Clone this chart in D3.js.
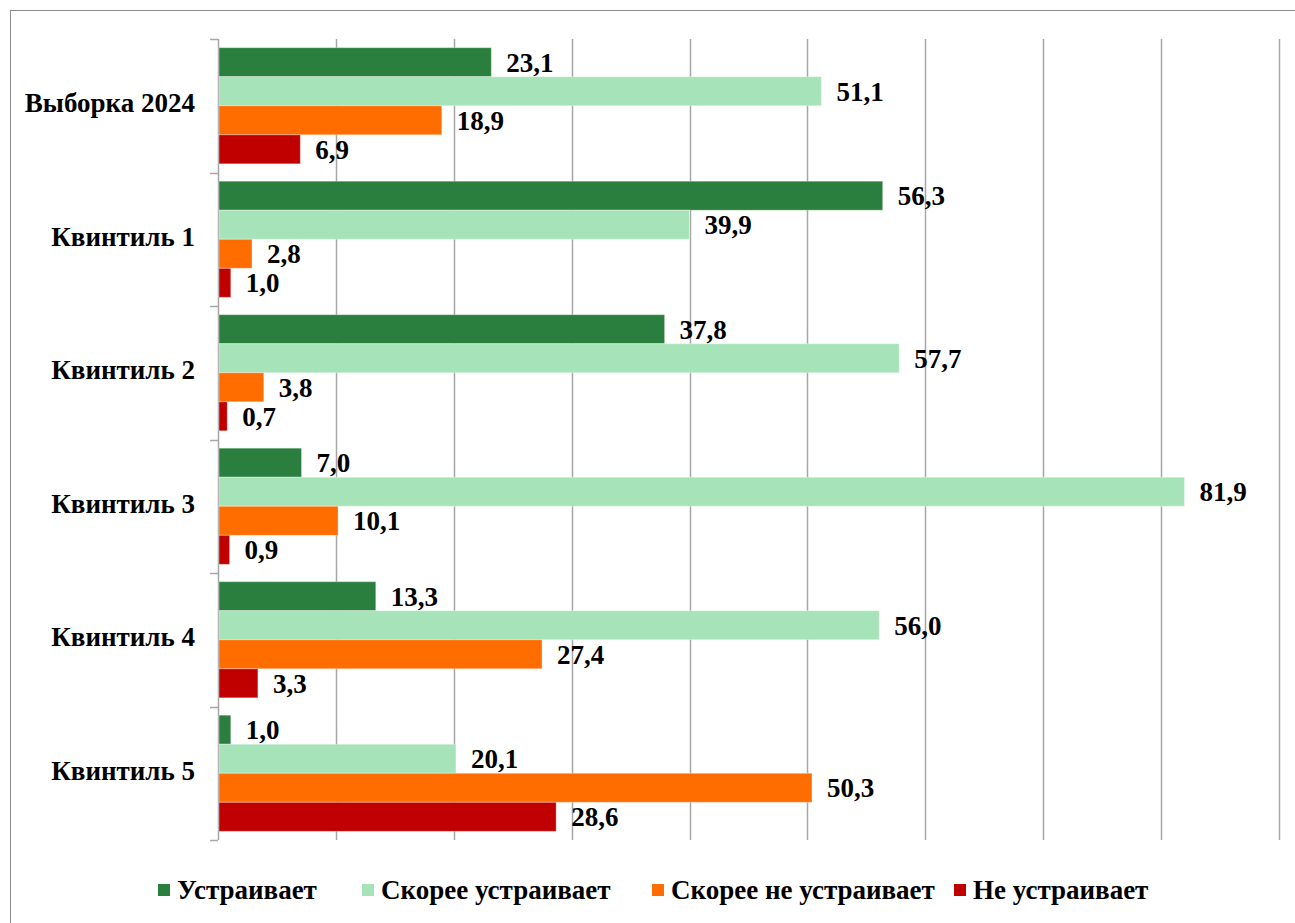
<!DOCTYPE html>
<html>
<head>
<meta charset="utf-8">
<script src="https://cdnjs.cloudflare.com/ajax/libs/d3/7.8.5/d3.min.js"></script>
<title>Удовлетворённость по квинтилям</title>
<style>
  body { margin: 0; background: #fff; }
  svg text { font-family: "Liberation Serif", "Times New Roman", serif; font-weight: bold; fill: #000; }
</style>
</head>
<body>
<svg id="chart" width="1295" height="923"></svg>
<script>
// data
var categories = ['Выборка 2024', 'Квинтиль 1', 'Квинтиль 2', 'Квинтиль 3', 'Квинтиль 4', 'Квинтиль 5'];
var seriesNames = ['Устраивает', 'Скорее устраивает', 'Скорее не устраивает', 'Не устраивает'];
var seriesColors = ['#2a7f3f', '#a6e3b8', '#ff6d00', '#c00000'];
var ustraivaet = [23.1, 56.3, 37.8, 7.0, 13.3, 1.0];
var skoreeUstraivaet = [51.1, 39.9, 57.7, 81.9, 56.0, 20.1];
var skoreeNeUstraivaet = [18.9, 2.8, 3.8, 10.1, 27.4, 50.3];
var neUstraivaet = [6.9, 1.0, 0.7, 0.9, 3.3, 28.6];
var xTicks = [0, 10, 20, 30, 40, 50, 60, 70, 80, 90];

var seriesValues = [ustraivaet, skoreeUstraivaet, skoreeNeUstraivaet, neUstraivaet];

var svg = d3.select('#chart');
var margin = { left: 218, top: 39, right: 16, bottom: 83 };
var width = 1295 - margin.left - margin.right;
var height = 923 - margin.top - margin.bottom;

// outer frame (only top and left edges visible)
svg.append('rect')
	.attr('x', 10.5).attr('y', 10.5)
	.attr('width', 1400).attr('height', 1000)
	.attr('fill', 'none')
	.attr('stroke', '#8c8c8c')
	.attr('stroke-width', 1);

var g = svg.append('g').attr('transform', 'translate(' + margin.left + ',' + margin.top + ')');

var x = d3.scaleLinear().domain([0, 90]).range([0, 1279 - margin.left]);
var y0 = d3.scaleBand().domain(categories).range([0, height]).paddingInner(0).paddingOuter(0);
var y1 = d3.scaleBand().domain(seriesNames)
	.range([y0.bandwidth() * 0.065, y0.bandwidth() * 0.935]).padding(0);

// gridlines
g.selectAll('.grid')
	.data(xTicks.slice(1))
	.enter().append('line')
		.attr('class', 'grid')
		.attr('x1', function( d ) { return Math.round(x(d)) + 0.5; })
		.attr('x2', function( d ) { return Math.round(x(d)) + 0.5; })
		.attr('y1', 0).attr('y2', height)
		.attr('stroke', '#a6a6a6')
		.attr('stroke-width', 1.5);

// left axis with ticks at category boundaries
var bounds = categories.map(function( c ) { return y0(c); }).concat([height]);
g.append('line')
	.attr('x1', 0.5).attr('x2', 0.5)
	.attr('y1', 0).attr('y2', height)
	.attr('stroke', '#a6a6a6').attr('stroke-width', 1.5);
g.selectAll('.ytick')
	.data(bounds)
	.enter().append('line')
		.attr('class', 'ytick')
		.attr('x1', -8).attr('x2', 0)
		.attr('y1', function( d ) { return Math.round(d) + 0.5; })
		.attr('y2', function( d ) { return Math.round(d) + 0.5; })
		.attr('stroke', '#a6a6a6').attr('stroke-width', 1.5);

// category labels
g.selectAll('.cat')
	.data(categories)
	.enter().append('text')
		.attr('class', 'cat')
		.attr('x', -23)
		.attr('y', function( d ) { return y0(d) + y0.bandwidth() / 2 - 3; })
		.attr('dy', '0.35em')
		.attr('text-anchor', 'end')
		.style('font-size', '27px')
		.text(function( d ) { return d; });

// bars
var rows = [];
categories.forEach(function( c, i ) {
	seriesNames.forEach(function( s, j ) {
		rows.push({ cat: c, series: s, value: seriesValues[j][i], color: seriesColors[j] });
	});
});

g.selectAll('.bar')
	.data(rows)
	.enter().append('rect')
		.attr('class', 'bar')
		.attr('x', 1)
		.attr('y', function( d ) { return y0(d.cat) + y1(d.series); })
		.attr('width', function( d ) { return x(d.value); })
		.attr('height', y1.bandwidth())
		.attr('fill', function( d ) { return d.color; })
		.attr('stroke', '#ffffff')
		.attr('stroke-opacity', 0.35)
		.attr('stroke-width', 1);

g.selectAll('.val')
	.data(rows)
	.enter().append('text')
		.attr('class', 'val')
		.attr('x', function( d ) { return x(d.value) + 16; })
		.attr('y', function( d ) { return y0(d.cat) + y1(d.series) + y1.bandwidth() / 2; })
		.attr('dy', '0.35em')
		.style('font-size', '27px')
		.text(function( d ) { return d.value.toFixed(1).replace('.', ','); });

// legend
var legendX = [158, 362, 652, 954];
var legend = svg.selectAll('.legend')
	.data(seriesNames)
	.enter().append('g')
		.attr('class', 'legend')
		.attr('transform', function( d, i ) { return 'translate(' + legendX[i] + ',884)'; });
legend.append('rect')
	.attr('width', 12).attr('height', 12)
	.attr('fill', function( d, i ) { return seriesColors[i]; });
legend.append('text')
	.attr('x', 19).attr('y', 6)
	.attr('dy', '0.35em')
	.style('font-size', '27px')
	.text(function( d ) { return d; });
</script>
</body>
</html>
